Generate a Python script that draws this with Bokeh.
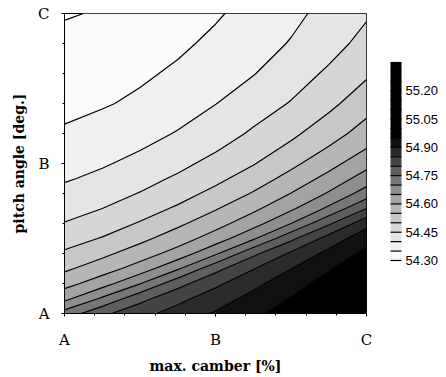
from bokeh.plotting import figure
from bokeh.models import FixedTicker, PrintfTickFormatter
from bokeh.embed import file_html
from bokeh.resources import INLINE
import numpy as np

# axes: A=0, B=1, C=2
camber = [0, 0.25, 0.5, 0.75, 1.0, 1.25, 1.5, 1.75, 2.0]
pitch = [0, 0.1, 0.2, 0.3, 0.4, 0.5, 0.6, 0.7, 0.8, 0.9, 1.0, 1.1, 1.2, 1.4, 1.6, 1.8, 2.0]
tick_vals = [0, 1, 2]
tick_labels = ["A", "B", "C"]

z_p00 = [54.720, 54.789, 54.833, 54.871, 54.905, 54.939, 54.973, 55.011, 55.050]
z_p01 = [54.636, 54.707, 54.784, 54.835, 54.877, 54.915, 54.953, 54.991, 55.031]
z_p02 = [54.581, 54.628, 54.698, 54.782, 54.839, 54.887, 54.929, 54.970, 55.011]
z_p03 = [54.541, 54.576, 54.622, 54.693, 54.784, 54.847, 54.899, 54.945, 54.990]
z_p04 = [54.507, 54.538, 54.575, 54.620, 54.692, 54.788, 54.858, 54.914, 54.964]
z_p05 = [54.479, 54.503, 54.537, 54.576, 54.623, 54.693, 54.788, 54.870, 54.932]
z_p06 = [54.452, 54.476, 54.504, 54.540, 54.581, 54.630, 54.700, 54.792, 54.884]
z_p07 = [54.432, 54.450, 54.477, 54.507, 54.546, 54.589, 54.641, 54.710, 54.800]
z_p08 = [54.413, 54.431, 54.452, 54.480, 54.514, 54.554, 54.601, 54.655, 54.723]
z_p09 = [54.395, 54.411, 54.433, 54.457, 54.487, 54.524, 54.567, 54.616, 54.673]
z_p10 = [54.382, 54.395, 54.413, 54.437, 54.465, 54.497, 54.538, 54.582, 54.634]
z_p11 = [54.369, 54.382, 54.398, 54.418, 54.445, 54.476, 54.511, 54.554, 54.600]
z_p12 = [54.355, 54.368, 54.384, 54.403, 54.426, 54.457, 54.490, 54.527, 54.573]
z_p14 = [54.339, 54.346, 54.358, 54.377, 54.399, 54.425, 54.453, 54.488, 54.528]
z_p16 = [54.324, 54.332, 54.343, 54.357, 54.374, 54.398, 54.426, 54.458, 54.493]
z_p18 = [54.310, 54.318, 54.328, 54.342, 54.359, 54.380, 54.403, 54.431, 54.466]
z_p20 = [54.297, 54.303, 54.314, 54.328, 54.345, 54.365, 54.388, 54.415, 54.444]

levels = [54.30, 54.35, 54.40, 54.45, 54.50, 54.55, 54.60, 54.65, 54.70, 54.75,
          54.80, 54.85, 54.90, 54.95, 55.00, 55.05, 55.10, 55.15, 55.20, 55.25,
          55.30, 55.35]
cbar_ticks = [54.30, 54.45, 54.60, 54.75, 54.90, 55.05, 55.20]

Z = np.array([z_p00, z_p01, z_p02, z_p03, z_p04, z_p05, z_p06, z_p07, z_p08,
              z_p09, z_p10, z_p11, z_p12, z_p14, z_p16, z_p18, z_p20])

palette = ["#fbfbfb", "#f0f0f0", "#e4e4e4", "#d6d6d6", "#c7c7c7", "#b6b6b6",
           "#a3a3a3", "#8e8e8e", "#777777", "#5e5e5e", "#444444", "#2a2a2a",
           "#111111", "#000000", "#000000", "#000000", "#000000", "#000000",
           "#000000", "#000000", "#000000"]

p = figure(frame_width=302, frame_height=300, x_range=(0, 2), y_range=(0, 2),
           output_backend="svg", toolbar_location=None,
           min_border_left=64, min_border_right=72, min_border_top=13, min_border_bottom=50)
p.xgrid.visible = False
p.ygrid.visible = False
p.outline_line_color = "black"
p.outline_line_width = 1

cr = p.contour(x=camber, y=pitch, z=Z, levels=levels, fill_color=palette,
               line_color="black", line_width=1.2)

minor = [0.2 * i for i in range(11)]
serif = "DejaVu Serif"
for ax in (p.xaxis[0], p.yaxis[0]):
    ax.ticker = FixedTicker(ticks=tick_vals, minor_ticks=minor)
    ax.major_label_overrides = {v: l for v, l in zip(tick_vals, tick_labels)}
    ax.major_label_text_font = serif
    ax.major_label_text_font_size = "15px"
    ax.major_label_text_color = "black"
    ax.axis_label_text_font = serif
    ax.axis_label_text_font_size = "14px"
    ax.axis_label_text_font_style = "bold"
    ax.axis_label_text_color = "black"
    ax.axis_line_color = "black"
    ax.major_tick_line_color = "black"
    ax.minor_tick_line_color = "black"
    ax.major_tick_out = 3
    ax.major_tick_in = 0
    ax.minor_tick_out = 2
    ax.minor_tick_in = 0

p.xaxis.axis_label = "max. camber [%]"
p.yaxis.axis_label = "pitch angle [deg.]"
p.xaxis.major_label_standoff = 14
p.xaxis.axis_label_standoff = 6
p.yaxis.major_label_standoff = 12
p.yaxis.axis_label_standoff = 8
p.yaxis.major_label_orientation = "horizontal"

cb = cr.construct_color_bar(
    width=11, height=198, padding=0, location=(326, 53),
    formatter=PrintfTickFormatter(format="%.2f"),
    major_label_text_font="Liberation Sans",
    major_label_text_font_size="13px",
    major_label_text_color="black",
    major_tick_line_color=None,
    bar_line_color="black",
    label_standoff=4,
    background_fill_alpha=0,
    border_line_color=None,
)
cb.ticker = FixedTicker(ticks=cbar_ticks)
p.add_layout(cb, "center")

open("out.html", "w").write(file_html(p, INLINE))
